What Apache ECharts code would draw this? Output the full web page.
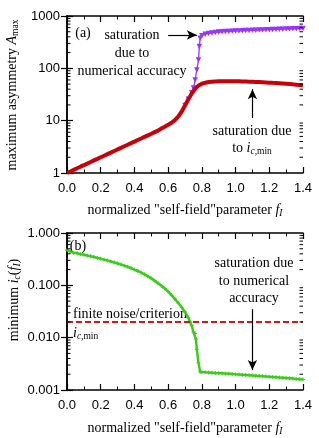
<!DOCTYPE html>
<html><head><meta charset="utf-8">
<script src="https://cdn.jsdelivr.net/npm/echarts@6/dist/echarts.min.js"></script>
<style>html,body{margin:0;padding:0;background:#fff}#c{width:319px;height:438px}</style>
</head><body><div id="c"></div>
<script>
// ---- data (top panel) ----
const fA = [0,0.02,0.04,0.06,0.08,0.10,0.12,0.14,0.16,0.18,0.20,0.22,0.24,0.26,0.28,0.30,0.32,0.34,0.36,0.38,0.40,0.42,0.44,0.46,0.48,0.50,0.52,0.54,0.56,0.58,0.60,0.62,0.64,0.66,0.68,0.70,0.72,0.74,0.76,0.78,0.80,0.82,0.84,0.86,0.88,0.90,0.92,0.94,0.96,0.98,1.00,1.02,1.04,1.06,1.08,1.10,1.12,1.14,1.16,1.18,1.20,1.22,1.24,1.26,1.28,1.30,1.32,1.34,1.36,1.38,1.40];
const asymSat = [1.00,1.07,1.15,1.23,1.32,1.41,1.51,1.62,1.74,1.86,2.00,2.14,2.29,2.45,2.63,2.82,3.02,3.24,3.47,3.72,3.98,4.27,4.57,4.90,5.25,5.62,6.03,6.46,7.08,7.67,8.32,9.12,10.2,12.0,14.8,19.5,25.7,33.1,40.7,46.8,50.7,53.1,54.6,55.6,56.2,56.5,56.8,56.9,56.9,56.8,56.6,56.5,56.2,56.0,55.7,55.5,55.1,54.7,54.3,53.8,53.3,52.8,52.4,51.9,51.3,50.7,50.1,49.4,48.8,48.1,47.4];
const fNum = [0.70,0.72,0.74,0.75,0.76,0.77,0.78,0.785,0.79,0.80,0.82,0.84,0.86,0.88,0.90,0.92,0.94,0.96,0.98,1.00,1.02,1.04,1.06,1.08,1.10,1.12,1.14,1.16,1.18,1.20,1.22,1.24,1.26,1.28,1.30,1.32,1.34,1.36,1.38,1.40];
const asymNum = [19.5,25.7,34,42,60,93,144,260,375,420,450,465,475,485,492,498,503,508,512,516,519,522,526,529,532,535,538,541,544,547,550,553,556,559,562,565,568,571,574,577];
// ---- data (bottom panel) ----
const fB = [0,0.02,0.04,0.06,0.08,0.10,0.12,0.14,0.16,0.18,0.20,0.22,0.24,0.26,0.28,0.30,0.32,0.34,0.36,0.38,0.40,0.42,0.44,0.46,0.48,0.50,0.52,0.54,0.56,0.58,0.60,0.62,0.64,0.66,0.68,0.70,0.72,0.73,0.74,0.75,0.76,0.765,0.77,0.78,0.79,0.80,0.82,0.84,0.86,0.88,0.90,0.92,0.94,0.96,0.98,1.00,1.02,1.04,1.06,1.08,1.10,1.12,1.14,1.16,1.18,1.20,1.22,1.24,1.26,1.28,1.30,1.32,1.34,1.36,1.38,1.40];
const icMin = [0.47,0.44,0.42,0.41,0.395,0.385,0.372,0.36,0.348,0.335,0.322,0.31,0.298,0.286,0.274,0.262,0.25,0.238,0.226,0.213,0.20,0.188,0.175,0.162,0.149,0.136,0.123,0.110,0.098,0.087,0.076,0.065,0.055,0.046,0.038,0.031,0.024,0.020,0.017,0.0128,0.0120,0.0094,0.0060,0.0033,0.00222,0.00220,0.00218,0.00216,0.00214,0.00212,0.00210,0.00208,0.00206,0.00204,0.00202,0.00199,0.00197,0.00195,0.00193,0.00191,0.00189,0.00187,0.00185,0.00183,0.00181,0.00179,0.00177,0.00175,0.00173,0.00171,0.00169,0.00167,0.00165,0.00163,0.00161,0.00159];
const noiseF = [0, 1.4];
const noiseLevel = [0.02, 0.02];
// ---- axes ----
const xMin = 0, xMax = 1.4, xStep = 0.2;
const minorTop = [2,3,4,5,6,7,8,9,20,30,40,50,60,70,80,90,200,300,400,500,600,700,800,900];
const minorBot = [0.002,0.003,0.004,0.005,0.006,0.007,0.008,0.009,0.02,0.03,0.04,0.05,0.06,0.07,0.08,0.09,0.2,0.3,0.4,0.5,0.6,0.7,0.8,0.9];
// ---- arrows (data coords) ----
const arrowTopH = [[0.60, 434], [0.77, 434]];
const arrowTopV = [[1.10, 11.2], [1.10, 40]];
const arrowBotV = [[1.10, 0.035], [1.10, 0.0024]];

const SERIF = "'Liberation Serif','Times New Roman',serif";
const SANS = "'Liberation Sans',Arial,sans-serif";
const RED = '#c8000a', PURPLE = '#9933ff', GREEN = '#3ccc1c', DASH = '#d01818';
const rich = {
  n: {fontFamily: SERIF, fontSize: 14, lineHeight: 16, color: '#000'},
  i: {fontFamily: SERIF, fontSize: 14, lineHeight: 16, fontStyle: 'italic', color: '#000'},
  si: {fontFamily: SERIF, fontSize: 9.5, lineHeight: 8, fontStyle: 'italic', verticalAlign: 'bottom', color: '#000'},
  s: {fontFamily: SERIF, fontSize: 9.5, lineHeight: 8, verticalAlign: 'bottom', color: '#000'}
};
const zip = (a, b) => a.map((v, k) => [v, b[k]]);

function xAx(grid, pos) {
  return {type: 'value', gridIndex: grid, position: pos, min: xMin, max: xMax, interval: xStep,
    axisLine: {show: true, lineStyle: {color: '#000', width: 1.5}},
    axisTick: {show: true, inside: true, length: 6, lineStyle: {color: '#000', width: 1.2}},
    minorTick: {show: true, splitNumber: 2, length: 3.5, lineStyle: {color: '#000', width: 1}},
    splitLine: {show: false},
    axisLabel: {show: pos === 'bottom', margin: 9, color: '#000', fontSize: 13, fontFamily: SANS,
      formatter: v => v.toFixed(1)}};
}
function yAx(grid, pos, mn, mx, fmt) {
  return {type: 'log', logBase: 10, gridIndex: grid, position: pos, min: mn, max: mx,
    axisLine: {show: true, lineStyle: {color: '#000', width: 1.5}},
    axisTick: {show: true, inside: true, length: 6, lineStyle: {color: '#000', width: 1.2}},
    splitLine: {show: false},
    axisLabel: {show: pos === 'left', margin: 7, color: '#000', fontSize: 13, fontFamily: SANS, formatter: fmt}};
}
function minorTicks(xi, yi, vals) {
  return {type: 'custom', xAxisIndex: xi, yAxisIndex: yi, silent: true, z: 5,
    data: vals.map(v => [0, v]),
    renderItem: function (params, api) {
      const cs = params.coordSys;
      const y = api.coord([0, api.value(1)])[1];
      const st = {stroke: '#000', lineWidth: 1};
      return {type: 'group', children: [
        {type: 'line', shape: {x1: cs.x, y1: y, x2: cs.x + 3.5, y2: y}, style: st},
        {type: 'line', shape: {x1: cs.x + cs.width - 3.5, y1: y, x2: cs.x + cs.width, y2: y}, style: st}
      ]};
    }};
}
function arrowML(list) {
  return {silent: true, animation: false, symbol: ['none', 'arrow'], symbolSize: [7, 10],
    lineStyle: {color: '#000', width: 1.2, type: 'solid'}, label: {show: false},
    emphasis: {disabled: true},
    data: list.map(a => [{coord: a[0], symbol: 'none'}, {coord: a[1]}])};
}

const chart = echarts.init(document.getElementById('c'), null, {renderer: 'canvas'});
chart.setOption({
  animation: false,
  backgroundColor: '#fff',
  grid: [
    {left: 67, right: 16, top: 16, height: 157},
    {left: 67, right: 16, top: 233, height: 157}
  ],
  xAxis: [xAx(0, 'bottom'), xAx(0, 'top'), xAx(1, 'bottom'), xAx(1, 'top')],
  yAxis: [
    yAx(0, 'left', 1, 1000, v => String(v)),
    yAx(0, 'right', 1, 1000, v => String(v)),
    yAx(1, 'left', 0.001, 1, v => v.toFixed(3)),
    yAx(1, 'right', 0.001, 1, v => v.toFixed(3))
  ],
  series: [
    {type: 'line', xAxisIndex: 0, yAxisIndex: 0, data: zip(fNum, asymNum), z: 2,
      lineStyle: {color: PURPLE, width: 1.3}, itemStyle: {color: PURPLE},
      symbol: 'triangle', symbolRotate: 180, symbolSize: 5.5, showSymbol: true},
    {type: 'line', xAxisIndex: 0, yAxisIndex: 0, data: zip(fA, asymSat), z: 3,
      lineStyle: {color: RED, width: 4}, itemStyle: {color: RED}, symbol: 'none',
      markLine: arrowML([arrowTopH, arrowTopV])},
    minorTicks(0, 0, minorTop),
    {type: 'line', xAxisIndex: 2, yAxisIndex: 2, data: zip(fB, icMin), z: 3,
      lineStyle: {color: GREEN, width: 2.5}, itemStyle: {color: GREEN, borderColor: GREEN, borderWidth: 1},
      symbol: 'path://M0,4L8,4M4,0L4,8', symbolSize: 4, showSymbol: true,
      markLine: arrowML([arrowBotV])},
    {type: 'line', xAxisIndex: 2, yAxisIndex: 2, data: zip(noiseF, noiseLevel), z: 4, symbol: 'none',
      lineStyle: {color: DASH, width: 2, type: [6, 3]}},
    minorTicks(2, 2, minorBot)
  ],
  graphic: [
    {type: 'text', x: 12, y: 95, rotation: Math.PI / 2,
      style: {text: '{n|maximum asymmetry }{i|A}{s|max}', rich: rich, align: 'center', verticalAlign: 'middle'}},
    {type: 'text', x: 14, y: 300, rotation: Math.PI / 2,
      style: {text: '{n|minimum }{i|i}{si|c}{n|(}{i|f}{si|I}{n|)}', rich: rich, align: 'center', verticalAlign: 'middle'}},
    {type: 'text', x: 185, y: 210,
      style: {text: '{n|normalized "self-field"parameter }{i|f}{si|I}', rich: rich, align: 'center', verticalAlign: 'middle'}},
    {type: 'text', x: 185, y: 428,
      style: {text: '{n|normalized "self-field"parameter }{i|f}{si|I}', rich: rich, align: 'center', verticalAlign: 'middle'}},
    {type: 'text', x: 83, y: 33, style: {text: '(a)', font: '14px ' + SERIF, fill: '#000', align: 'center', verticalAlign: 'middle'}},
    {type: 'text', x: 78, y: 246, style: {text: '(b)', font: '14px ' + SERIF, fill: '#000', align: 'center', verticalAlign: 'middle'}},
    {type: 'text', x: 132, y: 53, style: {text: 'saturation\ndue to\nnumerical accuracy', font: '14px ' + SERIF, lineHeight: 18, fill: '#000', align: 'center', verticalAlign: 'middle'}},
    {type: 'text', x: 252, y: 131, style: {text: 'saturation due', font: '14px ' + SERIF, fill: '#000', align: 'center', verticalAlign: 'middle'}},
    {type: 'text', x: 252, y: 148, style: {text: '{n|to }{i|i}{si|c}{s|,min}', rich: rich, align: 'center', verticalAlign: 'middle'}},
    {type: 'text', x: 254, y: 281, style: {text: 'saturation due\nto numerical\naccuracy', font: '14px ' + SERIF, lineHeight: 17.5, fill: '#000', align: 'center', verticalAlign: 'middle'}},
    {type: 'text', x: 73, y: 314, style: {text: 'finite noise/criterion', font: '14px ' + SERIF, fill: '#000', align: 'left', verticalAlign: 'middle'}},
    {type: 'text', x: 73, y: 333, style: {text: '{i|i}{si|c}{s|,min}', rich: rich, align: 'left', verticalAlign: 'middle'}}
  ]
});
</script></body></html>
